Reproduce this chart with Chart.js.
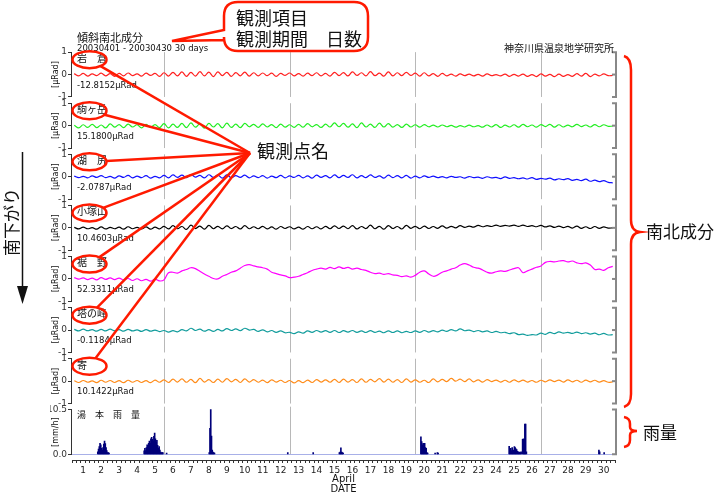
<!DOCTYPE html>
<html>
<head>
<meta charset="utf-8">
<script src="https://cdn.jsdelivr.net/npm/chart.js@4.4.1/dist/chart.umd.min.js"></script>
<style>
  html, body { margin: 0; padding: 0; background: #fff; }
  #wrap { width: 720px; height: 494px; position: relative; }
</style>
</head>
<body>
<div id="wrap"><canvas id="tilt" width="720" height="494"></canvas></div>
<script>
// 観測点と基準値
const stations = ['岩　倉', '駒ヶ岳', '湖　尻', '小塚山', '裾　野', '塔の峰', '寄'];
const baseValues = ['-12.8152μRad', '15.1800μRad', '-2.0787μRad', '10.4603μRad', '52.3311μRad', '-0.1184μRad', '10.1422μRad'];
const lineColors = ['#ff2020', '#22ee22', '#1010ff', '#000000', '#ff00ff', '#119c9c', '#ff8c1a'];
const dayLabels = ['1','2','3','4','5','6','7','8','9','10','11','12','13','14','15','16','17','18','19','20','21','22','23','24','25','26','27','28','29','30'];
const weekLines = [5, 12, 19, 26]; // 日曜 0時

// 6時間ごとの値 (4月1日0時から, 121点)
const iwakura = [
  0.04,-0.06,0.05,-0.07,0.03,-0.05,0.06,-0.06,0.04,-0.08,0.05,-0.06,0.07,-0.05,0.03,-0.07,0.06,-0.04,0.05,-0.08,
  0.08,-0.07,0.1,-0.06,0.12,-0.08,0.1,-0.07,0.13,-0.06,0.11,-0.09,0.12,-0.05,0.1,-0.08,0.09,-0.06,0.11,-0.07,
  0.08,-0.06,0.07,-0.05,0.06,-0.08,0.05,-0.04,0.07,-0.06,0.04,-0.07,0.06,-0.05,0.08,-0.06,0.05,-0.07,0.1,-0.05,
  0.09,-0.06,0.12,-0.04,0.08,-0.06,0.13,-0.05,0.06,-0.07,0.12,-0.06,0.08,-0.05,0.1,-0.04,0.06,-0.07,0.08,-0.06,
  0.04,-0.08,0.05,-0.06,0.02,-0.07,0.03,-0.05,0.02,-0.06,0.01,-0.07,0.03,-0.05,0.0,-0.06,0.02,-0.08,0.01,-0.07,
  0.02,-0.08,0.0,-0.09,0.03,-0.07,0.01,-0.09,0.02,-0.08,0.0,-0.08,0.04,-0.07,0.05,-0.09,0.02,-0.06,0.03,-0.05,
  -0.04];
const komagatake = [
  0.02,-0.1,0.04,-0.08,0.06,-0.09,0.03,-0.1,0.08,-0.07,0.05,-0.09,0.07,-0.06,0.04,-0.1,0.06,-0.08,0.05,-0.09,
  0.09,-0.1,0.07,-0.08,0.1,-0.09,0.12,-0.07,0.08,-0.11,0.1,-0.06,0.09,-0.1,0.11,-0.08,0.07,-0.09,0.1,-0.05,
  0.06,-0.08,0.08,-0.06,0.05,-0.09,0.07,-0.07,0.04,-0.08,0.06,-0.07,0.09,-0.05,0.05,-0.08,0.07,-0.06,0.12,-0.05,
  0.1,-0.07,0.08,-0.09,0.12,-0.06,0.07,-0.08,0.11,-0.06,0.09,-0.07,0.05,-0.08,0.07,-0.06,0.04,-0.07,0.05,-0.05,
  0.02,-0.06,0.03,-0.05,0.01,-0.07,0.0,-0.06,0.02,-0.05,0.0,-0.07,0.03,-0.06,0.05,-0.08,0.02,-0.06,0.04,-0.07,
  0.06,-0.05,0.03,-0.07,0.05,-0.04,0.06,-0.07,0.04,-0.06,0.02,-0.05,0.06,-0.04,0.03,-0.06,0.05,-0.05,0.04,-0.03,
  -0.02];
const kojiri = [
  0.03,-0.04,0.02,-0.05,0.04,-0.03,0.05,-0.04,0.02,-0.06,0.04,-0.03,0.06,-0.05,0.03,-0.04,0.05,-0.06,0.02,-0.05,
  0.06,-0.05,0.08,-0.03,0.07,-0.04,0.1,-0.02,0.06,-0.05,0.09,-0.03,0.07,-0.06,0.08,-0.04,0.05,-0.03,0.07,-0.05,
  0.04,-0.04,0.05,-0.06,0.03,-0.04,0.06,-0.05,0.04,-0.03,0.06,-0.05,0.04,-0.06,0.07,-0.03,0.05,-0.05,0.08,-0.04,
  0.06,-0.03,0.09,-0.05,0.05,-0.04,0.08,-0.03,0.04,-0.06,0.07,-0.04,0.05,-0.05,0.06,-0.06,0.03,-0.05,0.04,-0.03,
  0.03,-0.04,0.01,-0.05,0.02,-0.03,0.0,-0.06,0.01,-0.04,-0.02,-0.07,0.0,-0.05,-0.03,-0.08,-0.01,-0.07,-0.04,-0.09,
  -0.05,-0.1,-0.04,-0.12,-0.07,-0.11,-0.06,-0.14,-0.09,-0.13,-0.08,-0.16,-0.12,-0.17,-0.11,-0.2,-0.15,-0.22,-0.17,-0.25,
  -0.27];
const kozukayama = [
  0.02,-0.05,0.03,-0.04,0.01,-0.06,0.04,-0.05,0.02,-0.04,0.03,-0.06,0.05,-0.04,0.02,-0.05,0.04,-0.06,0.03,-0.05,
  0.07,-0.05,0.1,-0.04,0.06,-0.07,0.12,-0.03,0.08,-0.06,0.11,-0.04,0.07,-0.05,0.09,-0.03,0.06,-0.05,0.1,-0.04,
  0.05,-0.04,0.07,-0.05,0.04,-0.06,0.06,-0.03,0.05,-0.05,0.03,-0.06,0.06,-0.04,0.05,-0.05,0.07,-0.04,0.09,-0.03,
  0.08,-0.04,0.1,-0.05,0.06,-0.03,0.12,-0.04,0.07,-0.06,0.1,-0.03,0.06,-0.05,0.11,-0.02,0.07,-0.04,0.08,-0.03,
  0.06,-0.02,0.09,-0.01,0.07,0.0,0.1,0.02,0.08,0.03,0.11,0.05,0.1,0.06,0.12,0.07,0.11,0.08,0.12,0.07,
  0.12,0.06,0.1,0.05,0.11,0.04,0.09,0.02,0.08,0.01,0.07,-0.01,0.08,-0.02,0.05,-0.03,0.06,-0.02,0.04,-0.01,
  0.0];
const susono = [
  0.06,-0.01,0.05,-0.03,0.04,-0.04,0.06,-0.02,0.05,-0.03,0.04,-0.05,0.02,-0.07,0.01,-0.08,-0.02,-0.1,-0.01,-0.09,
  -0.04,0.28,0.3,0.26,0.36,0.42,0.5,0.46,0.34,0.22,0.12,0.02,0.0,0.12,0.2,0.3,0.36,0.48,0.6,0.64,
  0.58,0.54,0.5,0.44,0.3,0.24,0.18,0.14,0.06,0.08,0.12,0.2,0.28,0.38,0.44,0.48,0.44,0.52,0.46,0.54,
  0.47,0.52,0.44,0.48,0.42,0.38,0.3,0.24,0.26,0.2,0.24,0.18,0.16,0.1,0.14,0.08,0.16,0.3,0.36,0.22,
  0.12,0.18,0.3,0.36,0.44,0.5,0.62,0.68,0.62,0.52,0.48,0.4,0.3,0.26,0.32,0.36,0.34,0.4,0.46,0.5,
  0.28,0.36,0.44,0.52,0.58,0.74,0.78,0.76,0.8,0.82,0.76,0.8,0.72,0.68,0.72,0.62,0.42,0.44,0.38,0.5,
  0.56];
const tonomine = [
  0.03,-0.04,0.04,-0.03,0.02,-0.05,0.03,-0.04,0.04,-0.03,0.02,-0.05,0.03,-0.04,0.01,-0.06,0.02,-0.05,0.0,-0.07,
  -0.02,-0.09,-0.03,-0.08,0.02,-0.04,0.08,-0.02,0.04,-0.05,0.02,-0.06,0.03,-0.04,0.06,-0.02,0.05,-0.03,0.08,0.0,
  0.03,-0.06,0.01,-0.08,-0.02,-0.1,-0.04,-0.12,-0.1,-0.16,-0.08,-0.14,-0.04,-0.1,-0.02,-0.09,-0.03,-0.1,-0.02,-0.11,
  -0.03,-0.09,-0.02,-0.1,-0.04,-0.11,-0.03,-0.1,-0.05,-0.12,-0.04,-0.11,-0.04,-0.12,-0.06,-0.11,-0.04,-0.1,-0.02,-0.09,
  -0.03,-0.08,0.0,-0.06,0.02,-0.04,0.05,-0.03,0.0,-0.07,-0.02,-0.08,-0.04,-0.11,-0.06,-0.12,-0.1,-0.16,-0.12,-0.2,
  -0.18,-0.24,-0.2,-0.22,-0.14,-0.19,-0.1,-0.16,-0.08,-0.14,-0.1,-0.15,-0.09,-0.16,-0.12,-0.18,-0.14,-0.21,-0.15,-0.22,
  -0.2];
const yadoriki = [
  0.02,-0.06,0.03,-0.05,0.01,-0.07,0.04,-0.05,0.03,-0.06,0.02,-0.07,0.04,-0.05,0.03,-0.06,0.02,-0.07,0.05,-0.05,
  0.06,-0.06,0.09,-0.04,0.1,-0.05,0.08,-0.07,0.12,-0.04,0.07,-0.06,0.09,-0.05,0.11,-0.03,0.08,-0.06,0.1,-0.04,
  0.07,-0.05,0.05,-0.07,0.06,-0.04,0.04,-0.06,0.03,-0.08,0.02,-0.07,0.05,-0.06,0.07,-0.04,0.06,-0.05,0.08,-0.06,
  0.09,-0.04,0.07,-0.06,0.1,-0.05,0.08,-0.03,0.11,-0.04,0.09,-0.05,0.07,-0.06,0.1,-0.04,0.06,-0.05,0.04,-0.06,
  0.1,-0.03,0.08,-0.02,0.12,0.0,0.09,-0.02,0.1,-0.03,0.06,-0.04,0.07,-0.02,0.05,-0.04,0.04,-0.05,0.06,-0.03,
  0.05,-0.04,0.03,-0.05,0.04,-0.03,0.06,-0.02,0.05,-0.04,0.06,-0.03,0.04,-0.05,0.05,-0.03,0.04,-0.04,0.02,-0.05,
  -0.03];
const series = [iwakura, komagatake, kojiri, kozukayama, susono, tonomine, yadoriki];

// 湯本雨量 (4月1日0時からの経過時間, mm/h)
const rainHour = [
  31,32,33,34,35,36,37,38,39,40,41,42,43,44,45,46,
  93,94,95,96,97,98,99,100,101,102,103,104,105,106,107,108,109,110,111,112,113,114,115,116,117,118,123,
  180,181,182,183,184,185,186,187,285,319,
  354,355,356,357,358,359,
  463,464,465,466,467,468,469,470,471,472,482,485,486,
  581,582,583,584,585,586,587,588,589,590,591,592,593,594,595,596,597,599,600,601,602,603,604,
  701,702,708];
const rainMm = [
  0.6,1.2,1.8,2.6,2.2,1.4,1.0,1.6,2.4,3.1,2.5,1.6,0.9,0.4,0.4,0.3,
  0.8,1.4,0.9,1.6,2.2,1.7,2.6,3.1,2.6,3.6,4.0,3.5,3.1,4.2,5.0,3.6,2.8,3.3,2.1,1.4,1.8,1.0,0.5,0.4,0.4,0.4,0.3,
  0.4,6.1,10.5,4.3,1.0,0.5,0.4,0.3,0.4,0.4,
  0.4,0.5,1.5,0.5,0.4,0.3,
  4.1,3.0,2.2,2.6,1.8,2.6,1.6,1.4,0.4,0.3,0.3,0.4,0.3,
  1.9,0.8,1.4,0.9,1.6,0.9,1.0,1.8,1.6,1.3,1.1,0.7,0.6,0.4,0.5,0.4,0.6,3.5,3.6,3.5,7.1,7.1,0.6,
  1.0,0.6,0.4];

const JP = '"Noto Sans CJK JP", sans-serif';
const LAT = '"DejaVu Sans", sans-serif';
const panelIds = ['p0','p1','p2','p3','p4','p5','p6'];

function panelScale(weight, lo, hi, tickVals, fmt) {
  return {
    type: 'linear', position: 'left', stack: 'panels', stackWeight: weight,
    min: lo, max: hi,
    afterBuildTicks: s => { s.ticks = tickVals.map(v => ({ value: v })); },
    afterFit: s => { s.width = 22; },
    grid: { drawOnChartArea: false, drawTicks: true, tickLength: 4, tickColor: '#333' },
    border: { display: false },
    ticks: { font: { size: 9, family: LAT }, color: '#333', padding: 1, callback: fmt }
  };
}

const scales = {
  x: {
    type: 'linear', position: 'bottom', min: 0, max: 30,
    afterBuildTicks: s => {
      const t = [];
      for (let k = 0; k <= 120; k++) t.push({ value: k / 4 });
      s.ticks = t;
    },
    afterFit: s => { s.height = 34; },
    grid: { drawOnChartArea: false, tickLength: 3, tickColor: '#333' },
    border: { display: true, color: '#333' },
    ticks: {
      autoSkip: false, maxRotation: 0, padding: 2, color: '#222',
      font: { size: 9, family: LAT },
      callback: v => (v % 1 === 0.5 ? dayLabels[Math.floor(v)] : '')
    }
  },
  rain: panelScale(53.3, -1.33, 11.15, [0, 10.5], v => v.toFixed(1))
};
for (let i = 6; i >= 0; i--) {
  scales[panelIds[i]] = panelScale(51.1, -1.14, 1.14, [-1, 0, 1], v => String(v));
}

const datasets = series.map((arr, i) => ({
  type: 'line',
  data: arr.map((v, k) => ({ x: k / 4, y: v })),
  yAxisID: panelIds[i],
  borderColor: lineColors[i],
  borderWidth: 1.2,
  pointRadius: 0,
  tension: 0.4,
  fill: false
}));
datasets.push({
  type: 'bar',
  data: rainHour.map((h, i) => ({ x: (h + 0.5) / 24, y: rainMm[i] })),
  yAxisID: 'rain',
  backgroundColor: '#00007a',
  borderWidth: 0,
  barThickness: 1
});

function seg(ctx, x1, y1, x2, y2) {
  ctx.beginPath(); ctx.moveTo(x1, y1); ctx.lineTo(x2, y2); ctx.stroke();
}

const decor = {
  id: 'decor',
  beforeDatasetsDraw(chart) {
    const { ctx, scales: sc, chartArea } = chart;
    ctx.save();
    ctx.strokeStyle = '#b8b8b8';
    ctx.lineWidth = 1;
    panelIds.forEach(id => {
      const s = sc[id];
      weekLines.forEach(d => {
        const px = Math.round(sc.x.getPixelForValue(d)) + 0.5;
        seg(ctx, px, s.getPixelForValue(1), px, s.getPixelForValue(-1));
      });
    });
    const r = sc.rain;
    weekLines.forEach(d => {
      const px = Math.round(sc.x.getPixelForValue(d)) + 0.5;
      seg(ctx, px, r.top, px, r.getPixelForValue(0));
    });
    // 雨量ゼロ線
    ctx.strokeStyle = '#a8b0e8';
    const y0 = Math.round(r.getPixelForValue(0)) + 0.5;
    seg(ctx, chartArea.left, y0, chartArea.right, y0);
    ctx.restore();
  },
  afterDraw(chart) {
    const { ctx, scales: sc, chartArea } = chart;
    const L = chartArea.left, R = chartArea.right;
    ctx.save();

    // 左右の括弧
    const brackets = panelIds.map(id => [sc[id], 1, -1]).concat([[sc.rain, 10.5, 0]]);
    brackets.forEach(([s, hi, lo]) => {
      const t = s.getPixelForValue(hi), b = s.getPixelForValue(lo), m = s.getPixelForValue(0);
      ctx.strokeStyle = '#333'; ctx.lineWidth = 1;
      seg(ctx, L - 0.5, t, L - 0.5, b);
      ctx.strokeStyle = '#888'; ctx.lineWidth = 2;
      ctx.beginPath();
      ctx.moveTo(R - 3, t); ctx.lineTo(R + 1, t); ctx.lineTo(R + 1, b); ctx.lineTo(R - 3, b);
      ctx.stroke();
      if (s.id !== 'rain') seg(ctx, R - 3, m, R + 1, m);
    });

    // テキスト
    ctx.fillStyle = '#111';
    ctx.textBaseline = 'middle';
    ctx.textAlign = 'left';
    ctx.font = '11px ' + JP;
    ctx.fillText('傾斜南北成分', 77, 38);
    ctx.font = '8.5px ' + LAT;
    ctx.fillText('20030401 - 20030430 30 days', 77, 49);
    ctx.textAlign = 'right';
    ctx.font = '10px ' + JP;
    ctx.fillText('神奈川県温泉地学研究所', R - 1, 48);
    ctx.textAlign = 'left';

    panelIds.forEach((id, i) => {
      const s = sc[id];
      ctx.font = '10px ' + JP;
      ctx.fillStyle = '#111';
      ctx.fillText(stations[i], 77, s.getPixelForValue(1) + 6);
      ctx.font = '8.5px ' + LAT;
      ctx.fillText(baseValues[i], 77, s.getPixelForValue(0) + 11);
      ctx.save();
      ctx.translate(56, s.getPixelForValue(0));
      ctx.rotate(-Math.PI / 2);
      ctx.textAlign = 'center';
      ctx.font = '8px ' + LAT;
      ctx.fillText('[μRad]', 0, 0);
      ctx.restore();
    });
    ctx.font = '9px ' + JP;
    ctx.fillText('湯　本　雨　量', 77, sc.rain.getPixelForValue(10.5) + 5);
    ctx.save();
    ctx.translate(56, sc.rain.getPixelForValue(5.2));
    ctx.rotate(-Math.PI / 2);
    ctx.textAlign = 'center';
    ctx.font = '8px ' + LAT;
    ctx.fillText('[mm/h]', 0, 0);
    ctx.restore();

    ctx.textAlign = 'center';
    ctx.font = '10px ' + LAT;
    const cx = (L + R) / 2;
    ctx.fillText('April', cx, 479);
    ctx.fillText('DATE', cx, 489);

    // 赤い注記: 楕円と引出線
    const hub = [250, 153];
    ctx.strokeStyle = '#ff1a00';
    ctx.lineWidth = 2.5;
    panelIds.forEach(id => {
      const ocx = 89.5, ocy = sc[id].getPixelForValue(1) + 7.5, rx = 17, ry = 8.5;
      ctx.beginPath();
      ctx.ellipse(ocx, ocy, rx, ry, 0, 0, Math.PI * 2);
      ctx.stroke();
      const a = Math.atan2((hub[1] - ocy) / ry, (hub[0] - ocx) / rx);
      seg(ctx, ocx + rx * Math.cos(a), ocy + ry * Math.sin(a), hub[0], hub[1]);
    });
    ctx.fillStyle = '#111';
    ctx.textAlign = 'left';
    ctx.font = '18px ' + JP;
    ctx.fillText('観測点名', 257, 151);

    // 吹き出し
    const bx = 224, by = 2, bw = 144, bh = 49, br = 14;
    ctx.beginPath();
    ctx.moveTo(bx + br, by);
    ctx.lineTo(bx + bw - br, by);
    ctx.quadraticCurveTo(bx + bw, by, bx + bw, by + br);
    ctx.lineTo(bx + bw, by + bh - br);
    ctx.quadraticCurveTo(bx + bw, by + bh, bx + bw - br, by + bh);
    ctx.lineTo(bx + br, by + bh);
    ctx.quadraticCurveTo(bx, by + bh, bx, by + bh - br);
    ctx.lineTo(bx, 40);
    ctx.lineTo(172, 41);
    ctx.lineTo(bx, 30);
    ctx.lineTo(bx, by + br);
    ctx.quadraticCurveTo(bx, by, bx + br, by);
    ctx.closePath();
    ctx.fillStyle = '#fff';
    ctx.fill();
    ctx.stroke();
    ctx.fillStyle = '#111';
    ctx.font = '18px ' + JP;
    ctx.fillText('観測項目', 236, 18);
    ctx.fillText('観測期間　日数', 236, 39);

    // 右の中括弧
    ctx.strokeStyle = '#ff1a00';
    ctx.lineWidth = 2.5;
    ctx.beginPath();
    ctx.moveTo(624, 56);
    ctx.quadraticCurveTo(631, 58, 631, 70);
    ctx.lineTo(631, 220);
    ctx.quadraticCurveTo(631, 231, 640, 232);
    ctx.quadraticCurveTo(631, 233, 631, 244);
    ctx.lineTo(631, 394);
    ctx.quadraticCurveTo(631, 405, 624, 407);
    ctx.stroke();
    ctx.beginPath();
    ctx.moveTo(624, 417);
    ctx.quadraticCurveTo(630, 418, 630, 424);
    ctx.lineTo(630, 427);
    ctx.quadraticCurveTo(630, 431, 637, 431);
    ctx.quadraticCurveTo(630, 431, 630, 435);
    ctx.lineTo(630, 440);
    ctx.quadraticCurveTo(630, 446, 624, 447);
    ctx.stroke();
    ctx.font = '17px ' + JP;
    ctx.fillText('南北成分', 646, 232);
    ctx.fillText('雨量', 643, 433);

    // 南下がり と 矢印
    ctx.save();
    ctx.translate(12, 222);
    ctx.rotate(-Math.PI / 2);
    ctx.textAlign = 'center';
    ctx.fillText('南下がり', 0, 0);
    ctx.restore();
    ctx.strokeStyle = '#111';
    ctx.lineWidth = 1.5;
    seg(ctx, 22.5, 152, 22.5, 290);
    ctx.beginPath();
    ctx.moveTo(17, 286); ctx.lineTo(28, 286); ctx.lineTo(22.5, 304); ctx.closePath();
    ctx.fillStyle = '#111';
    ctx.fill();

    ctx.restore();
  }
};

new Chart(document.getElementById('tilt'), {
  type: 'line',
  data: { datasets },
  options: {
    responsive: false,
    animation: false,
    devicePixelRatio: 1,
    layout: { padding: { top: 49, left: 50, right: 105, bottom: 0 } },
    scales,
    plugins: { legend: { display: false }, tooltip: { enabled: false } }
  },
  plugins: [decor]
});
</script>
</body>
</html>
